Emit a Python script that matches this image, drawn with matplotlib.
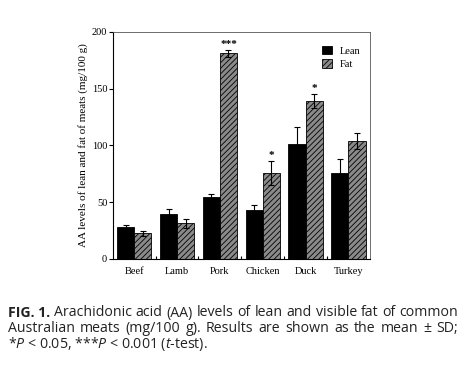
import matplotlib
matplotlib.use("Agg")
import matplotlib.pyplot as plt
import numpy as np

categories = ["Beef", "Lamb", "Pork", "Chicken", "Duck", "Turkey"]
lean = [28.5, 40, 55, 43.5, 101, 76]
lean_sd = [1.2, 4, 2, 3.8, 15, 12]
fat = [22.5, 31.5, 181, 76, 139, 103.5]
fat_sd = [2.5, 4, 3, 10.5, 6, 7]
stars = ["", "", "***", "*", "*", ""]
yticks = [0, 50, 100, 150, 200]
caption_lines = [
    "Arachidonic acid (AA) levels of lean and visible fat of common",
    "Australian meats (mg/100 g). Results are shown as the mean \u00b1 SD;",
]
caption_last = "*$P$ < 0.05, ***$P$ < 0.001 ($t$-test)."

plt.rcParams['hatch.linewidth'] = 0.6
plt.rcParams['mathtext.fontset'] = 'custom'
plt.rcParams['mathtext.rm'] = 'Open Sans'
plt.rcParams['mathtext.it'] = 'Open Sans:italic'
serif = "Liberation Serif"

W, H = 470, 370
fig = plt.figure(figsize=(4.7, 3.7), dpi=100)
ax = fig.add_axes([0.240, 0.300, 0.547, 0.614])

x = np.arange(len(categories)) + 0.5
w = 0.4
ax.bar(x - w / 2, lean, w, color="black", edgecolor="black", linewidth=0.6,
       yerr=lean_sd, error_kw=dict(ecolor="black", elinewidth=0.8, capsize=2.5, capthick=0.8),
       label="Lean")
ax.bar(x + w / 2, fat, w, color="#8a8a8a", edgecolor="black", hatch="//////", linewidth=0.6,
       yerr=fat_sd, error_kw=dict(ecolor="black", elinewidth=0.8, capsize=2.5, capthick=0.8),
       label="Fat")
for xi, f, s, st in zip(x, fat, fat_sd, stars):
    if st:
        ax.text(xi + w / 2, f + s + 1.0, st, ha="center", va="bottom",
                fontsize=8, family=serif, fontweight="bold")

ax.set_xlim(0, 6)
ax.set_ylim(0, 200)
ax.set_yticks(yticks)
ax.set_xticks(x)
ax.set_xticklabels(categories, family=serif, fontsize=7.5)
ax.set_xticks(np.arange(1, 6), minor=True)
ax.tick_params(axis="x", which="major", length=0, pad=6)
ax.tick_params(axis="x", which="minor", length=2, direction="in", width=0.8)
ax.tick_params(axis="y", length=3, direction="out", width=0.8, labelsize=7.5, pad=1)
for lbl in ax.get_yticklabels():
    lbl.set_family(serif)
for sp in ax.spines.values():
    sp.set_linewidth(0.8)
for sp in ["top", "right"]:
    ax.spines[sp].set_color("#555555")
    ax.spines[sp].set_linewidth(0.6)
ax.set_ylabel("AA levels of lean and fat of meats (mg/100 g)", family=serif, fontsize=8, labelpad=3)

leg = ax.legend(loc="upper right", bbox_to_anchor=(1.0, 0.98), frameon=False,
                prop={"family": serif, "size": 7.5}, handlelength=0.9, handleheight=0.9,
                handletextpad=0.8, labelspacing=0.35)

cap_font = "Open Sans"
fs = 10.2
col = "#222222"
x0, x1 = 8, 458
renderer = fig.canvas.get_renderer()


def justify(words, ypix, first_bold=0):
    objs = []
    for i, wd in enumerate(words):
        t = fig.text(0, 1 - ypix / H, wd, family=cap_font, fontsize=fs, color=col, va="center",
                     fontweight="bold" if i < first_bold else "normal")
        objs.append(t)
    widths = [o.get_window_extent(renderer).width for o in objs]
    gap = (x1 - x0 - sum(widths)) / (len(words) - 1)
    pos = x0
    for o, wdt in zip(objs, widths):
        o.set_x(pos / W)
        pos += wdt + gap


justify(["FIG.\u00a01."] + caption_lines[0].split(" "), 313, first_bold=1)
justify(caption_lines[1].split(" "), 329)
fig.text(x0 / W, 1 - 344 / H, caption_last, family=cap_font, fontsize=fs, color=col, va="center")

fig.savefig("out.png", dpi=100)
